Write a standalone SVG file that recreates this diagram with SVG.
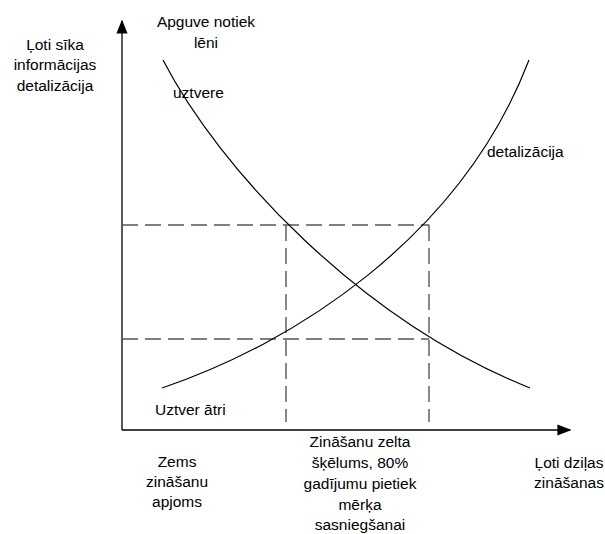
<svg xmlns="http://www.w3.org/2000/svg" width="605" height="534" viewBox="0 0 605 534">
<defs>
<style>
text{font-family:"Liberation Sans",Arial,sans-serif;font-size:15.5px;fill:#000}
.c{text-anchor:middle}
.axis{stroke:#000;stroke-width:1.3;fill:none}
.dash{stroke:#555;stroke-width:1.4;fill:none;stroke-dasharray:16 7}
.curve{stroke:#000;stroke-width:1.2;fill:none}
</style>
<marker id="arr" viewBox="0 0 10 10" refX="9" refY="5" markerWidth="14" markerHeight="14" markerUnits="userSpaceOnUse" orient="auto">
<path d="M0,1 L10,5 L0,9 Z" fill="#000"/>
</marker>
</defs>
<rect width="605" height="534" fill="#fff"/>
<g id="connectors">
<line class="axis" x1="122" y1="430" x2="122" y2="21" marker-end="url(#arr)"/>
<line class="axis" x1="122" y1="430" x2="570" y2="430" marker-end="url(#arr)"/>
<path class="dash" d="M122,225 H429"/>
<path class="dash" d="M122,339 H429"/>
<path class="dash" d="M286,225 V422"/>
<path class="dash" d="M429,225 V422"/>
<path id="uztvere-curve" class="curve" d="M163,60 C220,170 360,320 530,388"/>
<path id="detal-curve" class="curve" d="M162,388 C290,345 460,240 529,60"/>
</g>
<g id="y-label">
<text class="c" x="55" y="50">Ļoti sīka</text>
<text class="c" x="55" y="70">informācijas</text>
<text class="c" x="55" y="91">detalizācija</text>
</g>
<g id="apguve">
<text class="c" x="206" y="27">Apguve notiek</text>
<text class="c" x="206" y="48">lēni</text>
</g>
<g id="uztvere"><text x="173" y="98">uztvere</text></g>
<g id="detalizacija"><text x="487" y="157">detalizācija</text></g>
<g id="uztver-atri"><text x="155" y="415">Uztver ātri</text></g>
<g id="zems">
<text class="c" x="177" y="467">Zems</text>
<text class="c" x="177" y="487">zināšanu</text>
<text class="c" x="177" y="507">apjoms</text>
</g>
<g id="zelta">
<text class="c" x="360" y="447">Zināšanu zelta</text>
<text class="c" x="360" y="468">šķēlums, 80%</text>
<text class="c" x="360" y="489">gadījumu pietiek</text>
<text class="c" x="360" y="510">mērķa</text>
<text class="c" x="360" y="530">sasniegšanai</text>
</g>
<g id="dzilas">
<text class="c" x="569" y="468">Ļoti dziļas</text>
<text class="c" x="569" y="488">zināšanas</text>
</g>
</svg>
